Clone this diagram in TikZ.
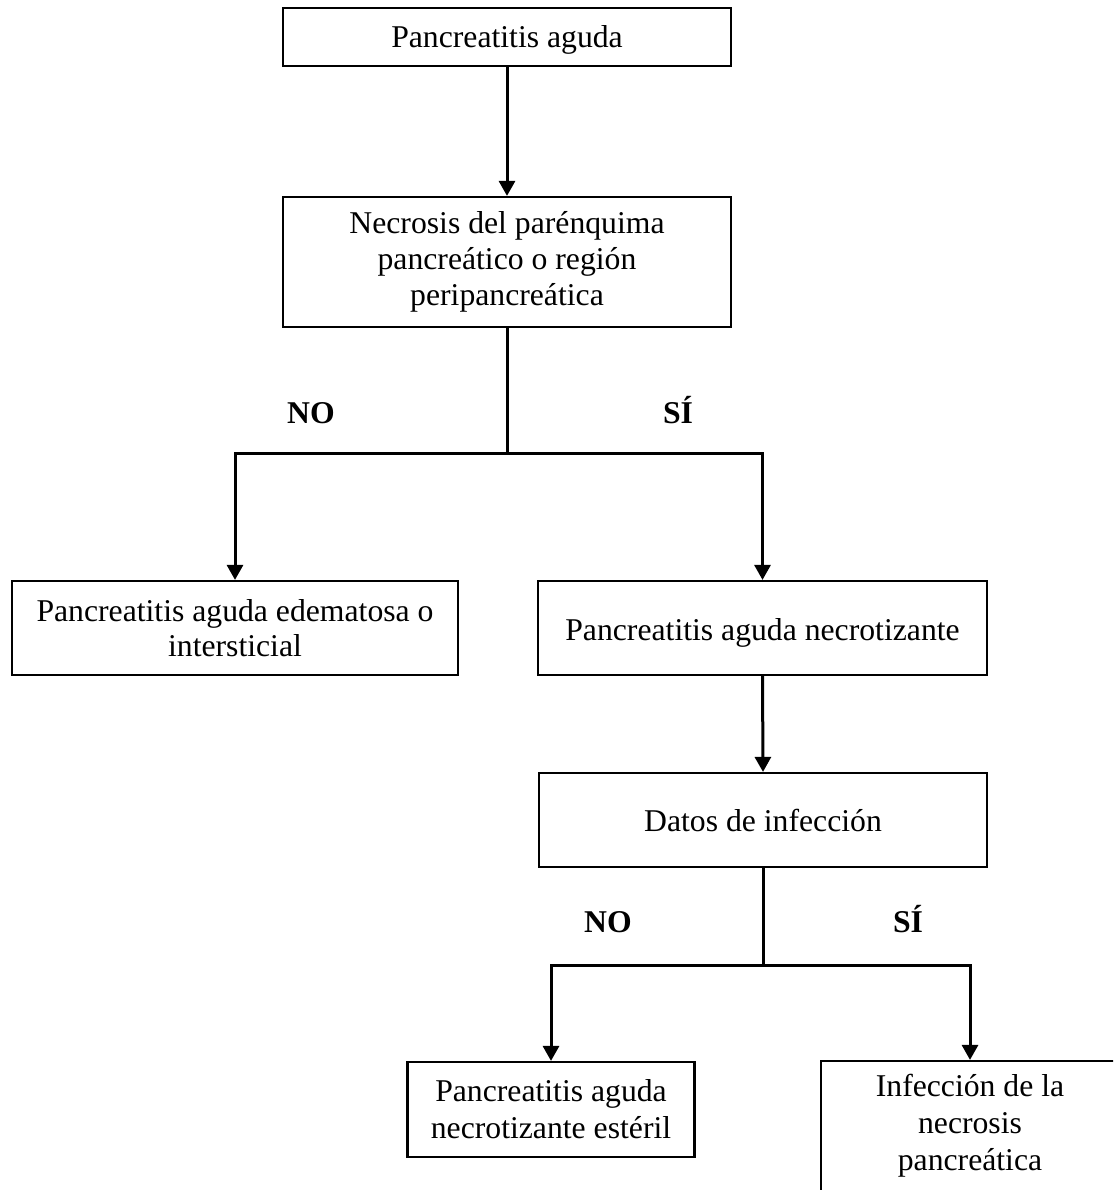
\documentclass[tikz,border=0pt]{standalone}
\usepackage{fontspec}
\setmainfont{Liberation Serif}
\usetikzlibrary{arrows.meta}

\tikzset{
  box/.style={draw, line width=2.2pt, inner sep=0pt, align=center,
    font=\fontsize{31.7}{36}\selectfont},
  % taller first line pushes the text block down inside its box
  textdown/.style={execute at begin node={\rule{0pt}{#1}}},
  % deeper last line lifts the text block inside its box
  textup/.style={execute at end node={\rule[-#1]{0pt}{0pt}}},
  flow/.style={line width=3pt},
  arrowflow/.style={flow, -{Triangle[length=15pt,width=16pt]}},
  answer/.style={font=\fontsize{31.7}{36}\selectfont\bfseries, anchor=base, inner sep=0pt}
}

\begin{document}
\begin{tikzpicture}[x=1pt, y=-1pt]
  \useasboundingbox (0,0) rectangle (1113,1190);
  \clip (0,0) rectangle (1113,1190);

  % boxes
  \node[box, textdown=28.6pt, minimum width=448pt, minimum height=58pt] (top) at (507,37)
    {Pancreatitis aguda};
  \node[box, textdown=29.6pt, minimum width=448pt, minimum height=130pt] (nec) at (507,262)
    {Necrosis del parénquima\\pancreático o región\\peripancreática};
  \node[box, minimum width=446pt, minimum height=94pt,
        font=\fontsize{31.7}{35}\selectfont] (edem) at (235,628)
    {Pancreatitis aguda edematosa o\\intersticial};
  \node[box, textdown=31pt, minimum width=449pt, minimum height=94pt] (necrot) at (762.5,628)
    {Pancreatitis aguda necrotizante};
  \node[box, textdown=24pt, minimum width=448pt, minimum height=94pt] (datos) at (763,820)
    {Datos de infección};
  \node[box, minimum width=287pt, minimum height=95pt,
        font=\fontsize{31.7}{37}\selectfont] (esteril) at (551,1109.5)
    {Pancreatitis aguda\\necrotizante estéril};
  \node[box, textup=38pt, minimum width=298pt, minimum height=160pt,
        font=\fontsize{31.7}{37}\selectfont] (infec) at (970,1141)
    {Infección de la\\necrosis\\pancreática};

  % branch points
  \coordinate (j1) at (507,453);
  \coordinate (j2) at (763,965);

  % connectors
  \draw[arrowflow] (top.south) -- (nec.north);
  \draw[flow] (nec.south) -- (j1);
  \draw[arrowflow] (j1) -| (edem.north);
  \draw[arrowflow] (j1) -| (necrot.north);
  \draw[arrowflow] (necrot.south) -- (datos.north);
  \draw[flow] (datos.south) -- (j2);
  \draw[arrowflow] (j2) -| (esteril.north);
  \draw[arrowflow] (j2) -| (infec.north);

  % branch answers
  \node[answer] (no1) at (311,423) {NO};
  \node[answer] (si1) at (678,423) {SÍ};
  \node[answer] (no2) at (608,932) {NO};
  \node[answer] (si2) at (908,932) {SÍ};
\end{tikzpicture}
\end{document}
